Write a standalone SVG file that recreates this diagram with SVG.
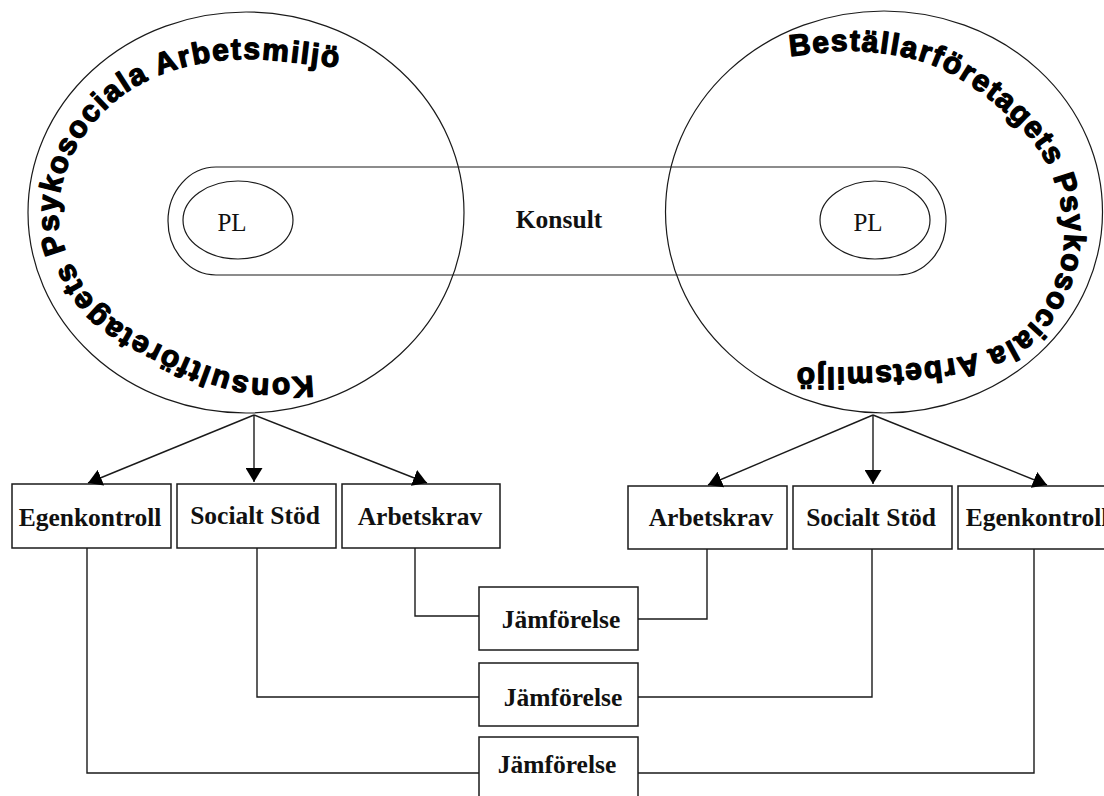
<svg xmlns="http://www.w3.org/2000/svg" width="1104" height="796" viewBox="0 0 1104 796">
  <style>
    .outline { fill: none; stroke: #1a1a1a; stroke-width: 1.2; }
    .box { fill: #fff; stroke: #1a1a1a; stroke-width: 1.5; }
    .wire { fill: none; stroke: #1a1a1a; stroke-width: 1.4; }
    .label { font-family: "Liberation Serif", "Times New Roman", serif; font-weight: bold; font-size: 25.5px; fill: #111; text-anchor: middle; }
    .pl { font-family: "Liberation Serif", "Times New Roman", serif; font-size: 25px; fill: #111; text-anchor: middle; }
    .ring { font-family: "Liberation Sans", Arial, sans-serif; font-weight: bold; font-size: 30px; fill: #000; stroke: #000; stroke-width: 1.3; stroke-linejoin: round; }
  </style>
  <defs>
    <marker id="ah" viewBox="0 0 14 17" refX="14" refY="8.5" markerWidth="14" markerHeight="17" markerUnits="userSpaceOnUse" orient="auto">
      <path d="M0,0 L14,8.5 L0,17 Z" fill="#000"/>
    </marker>
    <!-- baselines for the curved titles, both running clockwise -->
    <path id="ringLeft" d="M313,376 C291,376.3 270,381 247,377 C224,373 199,363.2 175,352 C151,340.8 120.8,326.2 103,310 C85.2,293.8 75.5,271.2 68,255 C60.5,238.8 58.2,227.5 58,213 C57.8,198.5 61.7,182.3 67,168 C72.3,153.7 79.5,140 90,127 C100.5,114 114.2,100 130,90 C145.8,80 165,72.2 185,67 C205,61.8 223.7,58.8 250,59 C276.3,59.2 312,65 343,68"/>
    <path id="ringRight" d="M790,56 C813.3,54.3 835.8,49.3 860,51 C884.2,52.7 911.7,56.5 935,66 C958.3,75.5 981.7,92.3 1000,108 C1018.3,123.7 1034.3,140.5 1045,160 C1055.7,179.5 1062.3,204.7 1064,225 C1065.7,245.3 1062.3,264 1055,282 C1047.7,300 1035,320.7 1020,333 C1005,345.3 988.3,350.5 965,356 C941.7,361.5 908.8,364 880,366 C851.2,368 821.3,367.3 792,368"/>
  </defs>

  <rect width="1104" height="796" fill="#fff"/>

  <!-- consultant company environment -->
  <g id="env-konsult">
    <ellipse class="outline" cx="246" cy="212.5" rx="218" ry="200.5"/>
    <text class="ring" letter-spacing="1.7"><textPath href="#ringLeft">Konsultföretagets Psykosociala Arbetsmiljö</textPath></text>
  </g>

  <!-- client company environment -->
  <g id="env-bestallare">
    <ellipse class="outline" cx="884" cy="212" rx="218.5" ry="201"/>
    <text class="ring" letter-spacing="1.6"><textPath href="#ringRight">Beställarföretagets Psykosociala Arbetsmiljö</textPath></text>
  </g>

  <!-- consultant spanning both environments -->
  <g id="konsult">
    <path class="outline" d="M216,167 H898 A48,54 0 0 1 898,275 H216 A48,54 0 0 1 216,167 Z"/>
    <text class="label" x="559" y="228" font-size="30">Konsult</text>
  </g>

  <g id="pl-left">
    <ellipse class="outline" cx="238" cy="220" rx="55" ry="39"/>
    <text class="pl" x="232" y="231">PL</text>
  </g>
  <g id="pl-right">
    <ellipse class="outline" cx="875" cy="220" rx="55" ry="39"/>
    <text class="pl" x="868" y="231">PL</text>
  </g>

  <!-- factor boxes, consultant side -->
  <g id="l-egenkontroll">
    <rect class="box" x="12" y="484" width="159" height="64"/>
    <text class="label" x="90" y="526">Egenkontroll</text>
  </g>
  <g id="l-socialt-stod">
    <rect class="box" x="177" y="484" width="159" height="64"/>
    <text class="label" x="255" y="524">Socialt Stöd</text>
  </g>
  <g id="l-arbetskrav">
    <rect class="box" x="342" y="484" width="158" height="64"/>
    <text class="label" x="420" y="525">Arbetskrav</text>
  </g>

  <!-- factor boxes, client side -->
  <g id="r-arbetskrav">
    <rect class="box" x="628" y="486" width="159" height="63"/>
    <text class="label" x="711" y="526">Arbetskrav</text>
  </g>
  <g id="r-socialt-stod">
    <rect class="box" x="793" y="486" width="159" height="63"/>
    <text class="label" x="871" y="526">Socialt Stöd</text>
  </g>
  <g id="r-egenkontroll">
    <rect class="box" x="958" y="486" width="159" height="63"/>
    <text class="label" x="1037" y="526">Egenkontroll</text>
  </g>

  <!-- comparison boxes -->
  <g id="jamforelse-1">
    <rect class="box" x="479" y="587" width="159" height="63"/>
    <text class="label" x="561" y="628">Jämförelse</text>
  </g>
  <g id="jamforelse-2">
    <rect class="box" x="479" y="663" width="159" height="63"/>
    <text class="label" x="563" y="706">Jämförelse</text>
  </g>
  <g id="jamforelse-3">
    <rect class="box" x="479" y="737" width="159" height="63"/>
    <text class="label" x="557" y="773">Jämförelse</text>
  </g>

  <g id="connectors">
    <!-- arrows from each environment to its factors -->
    <line class="wire" x1="254" y1="415" x2="88" y2="483" marker-end="url(#ah)"/>
    <line class="wire" x1="254" y1="415" x2="254" y2="482" marker-end="url(#ah)"/>
    <line class="wire" x1="254" y1="415" x2="427" y2="483" marker-end="url(#ah)"/>
    <line class="wire" x1="873" y1="415" x2="708" y2="485" marker-end="url(#ah)"/>
    <line class="wire" x1="873" y1="415" x2="873" y2="484" marker-end="url(#ah)"/>
    <line class="wire" x1="873" y1="415" x2="1047" y2="485" marker-end="url(#ah)"/>

    <!-- elbow links into the comparison boxes -->
    <polyline class="wire" points="415,548 415,616 479,616"/>
    <polyline class="wire" points="638,619 707,619 707,549"/>
    <polyline class="wire" points="257,548 257,697 479,697"/>
    <polyline class="wire" points="638,697 872,697 872,549"/>
    <polyline class="wire" points="87,548 87,773 479,773"/>
    <polyline class="wire" points="638,773 1034,773 1034,549"/>
  </g>
</svg>
